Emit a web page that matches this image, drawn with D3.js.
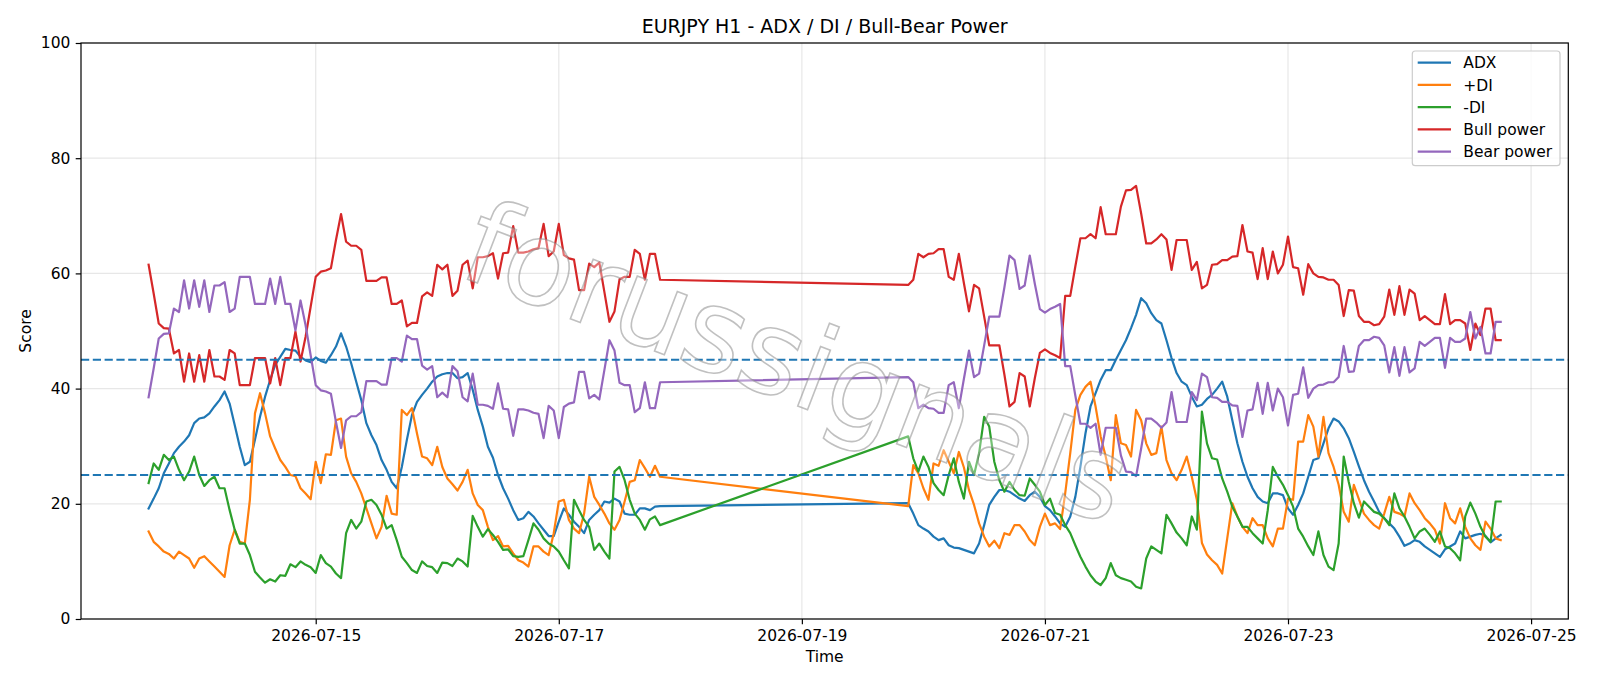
<!DOCTYPE html>
<html>
<head>
<meta charset="utf-8">
<script src="https://cdn.jsdelivr.net/npm/d3@7"></script>
<style>
  body { margin: 0; background: #fff; }
  svg { font-family: "DejaVu Sans", sans-serif; }
</style>
</head>
<body>
<div id="chart"></div>
<script>
// hourly candles, two sessions (market closed over the weekend)
var sessions = [
	{start: "2026-07-13T15:00:00Z", hours: 102},
	{start: "2026-07-19T21:00:00Z", hours: 118}
];

var adx = [
	19.2,20.9,22.7,25.3,27,28.8,29.9,30.8,31.9,34,34.8,35,35.7,36.9,38,39.5,37.4,33.7,29.9,26.7,27.3,31.1,35.1,38.6,41.5,44.1,45.5,46.9,46.7,46.6,45.5,44.9,44.6,45.4,44.8,
	44.5,45.8,47.3,49.6,47.3,44.4,41.2,38,34,31.9,30.2,27.6,25.9,23.8,22.7,26.4,31.1,35.4,37.7,38.9,40,41.2,42.1,42.5,42.7,42.7,41.8,42,42.7,39.8,36.3,33.4,29.9,28,
	25,22.7,20.9,18.9,17.2,17.5,18.6,17.8,16.6,15.5,14.4,14.4,16.9,19.2,18.1,16.9,16,14.9,17.2,18.1,18.9,20.4,20.2,20.9,20.4,18.3,18.1,18.1,19.2,19.2,18.9,19.5,19.6,
	20.1,18.3,16.3,15.7,15.2,14.3,13.7,14,12.8,12.4,12.3,12,11.7,11.4,13.1,16.3,19.8,21.2,22.4,22.4,22.1,21.5,20.9,20.5,21.5,22.1,21.2,19.6,18.9,
	17.8,16.6,16,17.8,21.2,26.4,32.2,36.9,39.2,41.5,43.2,43.2,45,46.7,48.4,50.5,52.8,55.7,54.8,53.1,51.9,51.3,48.4,45.3,42.7,41.2,40.6,38.6,36.9,37.2,
	38.2,38.9,40,41.2,38.6,34.5,30.5,27.3,24.7,22.7,21.2,20.4,20.1,21.8,21.8,21.5,19.2,18.1,19.8,21.8,24.7,27.6,27.9,30.5,33.1,34.8,34.3,33.1,31.4,29,
	26.5,24.1,22.1,20.4,18.6,17.5,16.6,15.7,14.3,12.7,13.1,13.7,13.4,12.6,12,11.4,10.8,12.1,12.6,13.1,15.2,14,14.3,14.6,14.8,14.4,13.3,14,14.6
];

var plusDI = [
	15.2,13.4,12.6,11.7,11.3,10.5,11.7,11.1,10.5,8.9,10.5,10.9,10,9.1,8.2,7.3,12.8,15.5,13.4,13.1,20.7,35.7,39.2,35.7,31.7,29.6,27.6,26.4,25,24.8,22.7,21.8,20.8,27.3,23.6,
	28.6,28.5,34.5,34.8,28.2,25.3,23.8,21.8,19.2,16.6,14,16,21.4,18.3,18.1,36.3,35.4,36.6,32.2,28.2,27.9,26.7,29.9,26.4,24.4,23.4,22.3,23.8,25.9,21.8,19.8,18.9,16,13.7,
	14.4,12.6,12.7,11.4,10.2,9.8,9.1,12.6,12.6,11.7,11.1,14.9,20.4,20.7,17.2,15.7,14.9,18.3,24.7,21.2,19.8,18.3,16.6,15.5,17.2,20.4,23.8,24.1,27.6,26.2,24.7,26.6,24.7,
	19.6,26.7,25.3,22.7,20.7,27,26.6,29.3,27.3,25.3,29,26.3,22.4,19.8,16.6,14.3,12.6,13.6,12.3,14.9,14.6,16.3,16.3,15.2,13.7,12.8,16,18.3,16.3,
	16.6,15.6,21.8,28.8,36.3,38.9,40.3,41.2,36.9,31.7,28.2,24.1,35.4,30.5,30.2,28.2,36.3,34.5,30.5,28.5,28.8,33.4,27.6,25.3,24.1,25.9,28.2,24.7,20.7,13.2,
	11.2,10.2,9.4,7.9,14,20.1,17.8,16,14.9,17.5,16.3,16.3,14,12.6,15.7,15.7,20.9,20.7,30.8,30.8,35.4,33.4,28.2,35.1,28.8,26.4,23.3,18.6,16.9,23.3,
	20.8,18.3,17.2,16.3,15.7,18.3,21.2,18.6,18.3,17.8,21.8,20.1,18.9,17.5,16.6,15.5,13.1,20.1,17.5,16.6,19.2,16,14,12.8,12,16.9,15.7,14,13.7
];

var minusDI = [
	23.6,27,25.9,28.5,27.6,28.2,25.9,24.1,25.6,28.2,25,23.1,24.1,24.7,22.7,22.7,18.9,15.5,13.1,13.1,11.1,8.2,7.2,6.3,6.9,6.5,7.6,7.5,9.5,9,10,9.4,9,8,11.1,
	9.7,9.1,7.9,7.1,14.9,17.2,15.7,16.9,20.4,20.7,19.8,18.1,15.7,16.3,13.7,10.8,9.7,8.5,8,10,9.2,9,8,9.8,9.7,9.2,10.5,10,9.1,17.9,16,14.3,15.6,14.6,
	13.4,12,12.1,10.9,10.8,10.9,13.7,16.6,15.5,14,13.1,12.6,11.7,10.2,8.8,20.7,18.9,17.2,16,12,13.1,11.7,10.5,25.6,26.4,24.1,20.7,18.3,17.2,15.5,17.3,17.8,16.3,
	31.7,27.9,25.6,28.2,26.4,23.6,22.4,21.5,25,27.9,23.8,20.9,27.3,25,28.8,35.1,33.4,27.3,24.1,22.1,23.8,22.4,21.5,21.4,24.4,23.3,22.1,19.8,20.9,
	18.4,18.1,16.3,14.9,12.8,10.8,9.1,7.6,6.5,5.9,7.1,9.7,7.6,7.1,6.8,6.5,5.6,5.3,10.5,12.6,12,11.4,18.1,16.6,15,14,12.8,17.8,15.5,36,
	30.5,27.9,27.7,24.4,22.1,19.5,17.8,16,16,14.9,14,13.1,18.9,26.4,24.7,23.3,21.5,19.5,15.7,14.3,12.6,11.1,15.2,11.1,9.1,8.5,13.1,28.2,23.8,20.1,
	17.6,20.4,19.5,18.6,18.3,17.5,16.3,21.8,19.2,17.8,16,14,15.2,15.7,14.6,13.4,15.2,12.6,12.3,11.4,10.2,17.8,20.2,18.3,16,14.3,13.4,20.4,20.4
];

var bullPower = [
	61.5,56.5,51.3,50.5,50.4,46.1,46.7,41.2,46.1,41.2,45.8,41.2,46.7,42.1,42.1,41.5,46.7,46.1,40.6,40.6,40.6,45.3,45.3,45.3,40.9,45.3,40.6,45.3,45.3,49.9,44.7,49,54.2,59.4,60.3,
	60.5,60.9,65.8,70.3,65.5,64.8,64.8,64.1,58.7,58.7,58.7,59.3,59.3,54.7,54.7,55.3,50.8,51.4,51.4,56,56.7,56.1,61.5,60.7,61.5,56.1,57,61.5,62.2,57.4,62.8,62.8,63,63.5,
	59.1,63.5,63.6,68.2,63.6,63.6,63.8,64.2,64.4,68.6,63,63.8,68.6,63.2,62.6,62.4,57.1,57.1,61.7,61.1,61.9,56.8,51.6,53.4,59,59.4,59.4,64.1,63.4,58.9,63.4,63.4,58.9,
	58,58.9,63.4,62.8,63.4,63.5,64.2,64.2,59.4,58.9,63.4,58.3,53.4,58,57.4,52.5,47.5,47.5,47.5,42.4,36.9,37.7,42.7,42.1,36.9,41.8,46.2,46.8,46.2,
	45.8,45.3,56.1,56.1,61.2,66.1,66.1,66.8,66.1,71.5,66.8,66.8,66.8,71.6,74.4,74.5,75.2,70.4,65.2,65.2,65.9,66.8,65.9,60.6,65.8,65.8,65.8,60.6,62,57.4,
	58,61.5,61.6,62.3,62.3,62.9,63,68.4,63.8,63.6,59,64.4,59,63.8,60,61.5,66.4,61.1,60.9,56.3,61.6,60,59.4,59.3,58.9,58.9,58,52.6,57.1,57,
	52.6,51.6,51.6,51,51.2,52.5,57.2,52.8,57.8,52.8,57.2,56.5,51.9,52.6,51.9,51.2,51.2,56.4,51.2,51.9,51.9,51.3,46.7,51.3,49.3,53.9,53.9,48.4,48.4
];

var bearPower = [
	38.5,43.5,48.7,49.5,49.6,53.9,53.3,58.8,53.9,58.8,54.2,58.8,53.3,57.9,57.9,58.5,53.3,53.9,59.4,59.4,59.4,54.7,54.7,54.7,59.1,54.7,59.4,54.7,54.7,50.1,55.3,51,45.8,40.6,39.7,
	39.5,39.1,34.2,29.7,34.5,35.2,35.2,35.9,41.3,41.3,41.3,40.7,40.7,45.3,45.3,44.7,49.2,48.6,48.6,44,43.3,43.9,38.5,39.3,38.5,43.9,43,38.5,37.8,42.6,37.2,37.2,37,36.5,
	40.9,36.5,36.4,31.8,36.4,36.4,36.2,35.8,35.6,31.4,37,36.2,31.4,36.8,37.4,37.6,42.9,42.9,38.3,38.9,38.1,43.2,48.4,46.6,41,40.6,40.6,35.9,36.6,41.1,36.6,36.6,41.1,
	42,41.1,36.6,37.2,36.6,36.5,35.8,35.8,40.6,41.1,36.6,41.7,46.6,42,42.6,47.5,52.5,52.5,52.5,57.6,63.1,62.3,57.3,57.9,63.1,58.2,53.8,53.2,53.8,
	54.2,54.7,43.9,43.9,38.8,33.9,33.9,33.2,33.9,28.5,33.2,33.2,33.2,28.4,25.6,25.5,24.8,29.6,34.8,34.8,34.1,33.2,34.1,39.4,34.2,34.2,34.2,39.4,38,42.6,
	42,38.5,38.4,37.7,37.7,37.1,37,31.6,36.2,36.4,41,35.6,41,36.2,40,38.5,33.6,38.9,39.1,43.7,38.4,40,40.6,40.7,41.1,41.1,42,47.4,42.9,43,
	47.4,48.4,48.4,49,48.8,47.5,42.8,47.2,42.2,47.2,42.8,43.5,48.1,47.4,48.1,48.8,48.8,43.6,48.8,48.1,48.1,48.7,53.3,48.7,50.7,46.1,46.1,51.6,51.6
];

var seriesNames = ["ADX", "+DI", "-DI", "Bull power", "Bear power"];
var seriesColors = ["#1f77b4", "#ff7f0e", "#2ca02c", "#d62728", "#9467bd"];
var refLevels = [45, 25];
var yTicks = [0, 20, 40, 60, 80, 100];
var xTickDates = ["2026-07-15", "2026-07-17", "2026-07-19", "2026-07-21", "2026-07-23", "2026-07-25"];
var titleText = "EURJPY H1 - ADX / DI / Bull-Bear Power";
var watermarkText = "forussignals";

// svg size and plot area
var svgWidth = 1600,
	svgHeight = 686;
var plot = {left: 81, right: 1568.3, top: 43, bottom: 619};

var svg = d3.select('#chart')
	.append('svg')
	.attr('width', svgWidth)
	.attr('height', svgHeight);

// timestamps for every hourly point
var times = [];
sessions.forEach(s => {
	var t0 = Date.parse(s.start);
	for (var h = 0; h < s.hours; h++) times.push(new Date(t0 + h * 3600000));
});

var allSeries = [adx, plusDI, minusDI, bullPower, bearPower];

// matplotlib style 5% margin on x
var tMin = d3.min(times), tMax = d3.max(times);
var pad = (tMax - tMin) * 0.05;
var xScale = d3.scaleUtc()
	.domain([new Date(+tMin - pad), new Date(+tMax + pad)])
	.range([plot.left, plot.right]);
var yScale = d3.scaleLinear()
	.domain([0, 100])
	.range([plot.bottom, plot.top]);

var xTicks = xTickDates.map(d => new Date(d + "T00:00:00Z"));

// grid
var grid = svg.append('g');
grid.selectAll('.gx')
	.data(xTicks)
	.enter()
	.append('line')
	.attr('x1', d => xScale(d))
	.attr('x2', d => xScale(d))
	.attr('y1', plot.top)
	.attr('y2', plot.bottom)
	.attr('stroke', '#b0b0b0')
	.attr('stroke-opacity', 0.3)
	.attr('stroke-width', 1.2);
grid.selectAll('.gy')
	.data(yTicks)
	.enter()
	.append('line')
	.attr('x1', plot.left)
	.attr('x2', plot.right)
	.attr('y1', d => yScale(d))
	.attr('y2', d => yScale(d))
	.attr('stroke', '#b0b0b0')
	.attr('stroke-opacity', 0.3)
	.attr('stroke-width', 1.2);

// series lines
var line = d3.line()
	.x((d, i) => xScale(times[i]))
	.y(d => yScale(d));

svg.append('g').selectAll('path')
	.data(allSeries)
	.enter()
	.append('path')
	.attr('d', d => line(d))
	.attr('fill', 'none')
	.attr('stroke', (d, i) => seriesColors[i])
	.attr('stroke-width', 2.2)
	.attr('stroke-linejoin', 'round')
	.attr('stroke-linecap', 'square');

// reference levels
svg.append('g').selectAll('line')
	.data(refLevels)
	.enter()
	.append('line')
	.attr('x1', plot.left)
	.attr('x2', plot.right)
	.attr('y1', d => yScale(d))
	.attr('y2', d => yScale(d))
	.attr('stroke', '#1f77b4')
	.attr('stroke-width', 1.9)
	.attr('stroke-dasharray', '8.2,3.6');

// axes
var xAxis = svg.append('g')
	.attr('transform', `translate(0,${plot.bottom})`)
	.call(d3.axisBottom(xScale)
		.tickValues(xTicks)
		.tickFormat(d3.utcFormat('%Y-%m-%d'))
		.tickSize(5.3)
		.tickPadding(5.3));
var yAxis = svg.append('g')
	.attr('transform', `translate(${plot.left},0)`)
	.call(d3.axisLeft(yScale)
		.tickValues(yTicks)
		.tickSize(5.3)
		.tickPadding(5.3));

[xAxis, yAxis].forEach(a => {
	a.select('.domain').remove();
	a.selectAll('line').attr('stroke', '#000').attr('stroke-width', 1.2);
	a.selectAll('text')
		.attr('fill', '#000')
		.style('font-family', '"DejaVu Sans", sans-serif')
		.style('font-size', '15.5px');
});

// spines
svg.append('rect')
	.attr('x', plot.left)
	.attr('y', plot.top)
	.attr('width', plot.right - plot.left)
	.attr('height', plot.bottom - plot.top)
	.attr('fill', 'none')
	.attr('stroke', '#000')
	.attr('stroke-width', 1.2);

// title and axis labels
svg.append('text')
	.attr('x', (plot.left + plot.right) / 2)
	.attr('y', 33)
	.attr('text-anchor', 'middle')
	.style('font-size', '19px')
	.text(titleText);

svg.append('text')
	.attr('x', (plot.left + plot.right) / 2)
	.attr('y', 662)
	.attr('text-anchor', 'middle')
	.style('font-size', '15.5px')
	.text('Time');

svg.append('text')
	.attr('transform', `translate(31,${(plot.top + plot.bottom) / 2})rotate(-90)`)
	.attr('text-anchor', 'middle')
	.style('font-size', '15.5px')
	.text('Score');

// legend
var legend = svg.append('g');
legend.append('rect')
	.attr('x', 1412.3)
	.attr('y', 51)
	.attr('width', 147.7)
	.attr('height', 114.7)
	.attr('rx', 3)
	.attr('fill', '#fff')
	.attr('fill-opacity', 0.8)
	.attr('stroke', '#cccccc')
	.attr('stroke-width', 1.2);

var rows = legend.selectAll('.row')
	.data(seriesNames)
	.enter()
	.append('g')
	.attr('transform', (d, i) => `translate(0,${62.7 + i * 22.25})`);
rows.append('line')
	.attr('x1', 1417.7)
	.attr('x2', 1451)
	.attr('stroke', (d, i) => seriesColors[i])
	.attr('stroke-width', 2.2);
rows.append('text')
	.attr('x', 1463.3)
	.attr('y', 5.7)
	.style('font-size', '15.5px')
	.text(d => d);

// diagonal watermark
var wm = svg.append('text')
	.attr('transform', 'translate(797,362)rotate(21)')
	.attr('text-anchor', 'middle')
	.attr('dy', '0.35em')
	.style('font-size', '100px')
	.attr('fill', '#ffffff')
	.attr('fill-opacity', 0.35)
	.attr('stroke', '#8c8c8c')
	.attr('stroke-opacity', 0.55)
	.attr('stroke-width', 1.6)
	.text(watermarkText);
var wmLen = wm.node().getComputedTextLength();
wm.style('font-size', (100 * 700 / wmLen) + 'px');
</script>
</body>
</html>
